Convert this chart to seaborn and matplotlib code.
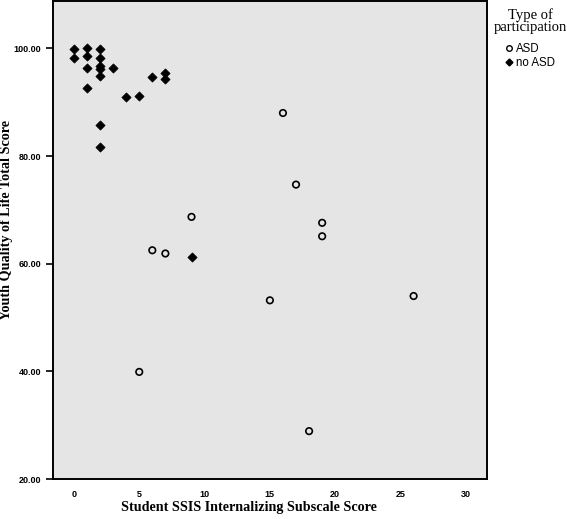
import pandas as pd
import seaborn as sns
import matplotlib.pyplot as plt
from matplotlib.lines import Line2D

# 데이터
asd_x = [5, 6, 7, 9, 15, 16, 17, 18, 19, 19, 26]
asd_y = [39.9, 62.5, 61.9, 68.7, 53.2, 88.0, 74.7, 28.9, 67.6, 65.1, 54.0]

noasd_x = [0, 0, 1, 1, 1, 1, 2, 2, 2, 2, 2, 2, 2, 3, 4, 5, 6, 7, 7, 9]
noasd_y = [99.8, 98.3, 100.0, 98.5, 96.4, 92.7, 99.8, 98.2, 96.7, 96.1, 94.9,
           85.8, 81.6, 96.4, 90.9, 91.1, 94.6, 95.5, 94.4, 61.2]

df = pd.DataFrame({
    'ssis': asd_x + noasd_x,
    'yqol': asd_y + noasd_y,
    'group': ['ASD'] * len(asd_x) + ['no ASD'] * len(noasd_x),
})

fig = plt.figure(figsize=(5.67, 5.19), dpi=100)
ax = fig.add_axes([0.0935, 0.077, 0.765, 0.921])
ax.set_facecolor('#e5e5e5')

# 그룹별 산점도
sns.scatterplot(data=df[df['group'] == 'ASD'], x='ssis', y='yqol', ax=ax,
                marker='o', s=22, facecolors='none', edgecolor='black',
                linewidth=1.2, legend=False)
sns.scatterplot(data=df[df['group'] == 'no ASD'], x='ssis', y='yqol', ax=ax,
                marker='D', s=22, color='black', edgecolor='black',
                linewidth=0.5, legend=False)

ax.set_xlim(-1.6, 31.6)
ax.set_ylim(20, 108.8)
ax.set_xticks([0, 5, 10, 15, 20, 25, 30])
ax.set_yticks([20, 40, 60, 80, 100])
ax.set_yticklabels([f'{v:.2f}' for v in [20, 40, 60, 80, 100]])

for sp in ax.spines.values():
    sp.set_linewidth(1.4)
    sp.set_color('black')
ax.tick_params(axis='both', direction='out', length=5, width=1.2,
               labelsize=6.5, colors='black')
ax.tick_params(axis='x', length=0, pad=8)
for lab in ax.get_xticklabels() + ax.get_yticklabels():
    lab.set_fontfamily('Liberation Sans')
    lab.set_fontweight('bold')

ax.set_xlabel('Student SSIS Internalizing Subscale Score',
              fontfamily='Liberation Serif', fontweight='bold', fontsize=10.2,
              va='center')
ax.set_ylabel('Youth Quality of Life Total Score',
              fontfamily='Liberation Serif', fontweight='bold', fontsize=10.2,
              va='center')
ax.xaxis.set_label_coords(0.451, -0.0605)
ax.yaxis.set_label_coords(-0.107, 0.541)

# 범례 (축 바깥 오른쪽)
handles = [
    Line2D([], [], marker='o', linestyle='', markerfacecolor='none',
           markeredgecolor='black', markersize=4, markeredgewidth=1),
    Line2D([], [], marker='D', linestyle='', color='black', markersize=3.5),
]
leg = ax.legend(handles, ['ASD', 'no ASD'], title='Type of\nparticipation',
                loc='upper left', bbox_to_anchor=(1.0, 1.0), frameon=False,
                handlelength=0.5, handletextpad=0.4, labelspacing=0.15,
                borderaxespad=0.2, borderpad=0.4, alignment='center',
                prop={'family': 'Liberation Sans', 'size': 8.3})
leg.get_title().set_fontfamily('Liberation Serif')
leg.get_title().set_fontsize(10.5)
leg.get_title().set_linespacing(0.95)
leg.get_title().set_multialignment('center')
leg._legend_box.sep = 6.5  # 제목과 항목 사이 간격

plt.savefig('out.png', dpi=100)
